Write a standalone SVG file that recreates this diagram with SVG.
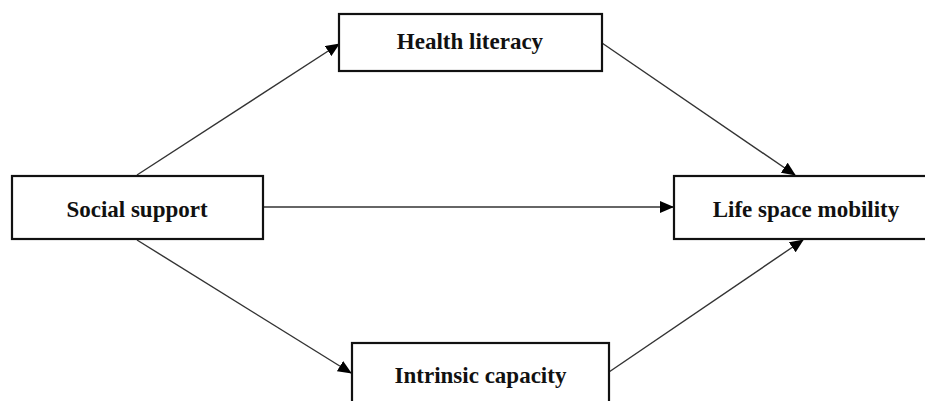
<svg xmlns="http://www.w3.org/2000/svg" width="925" height="401" viewBox="0 0 925 401">
<style>
.box{fill:#fff;stroke:#111;stroke-width:2.2}
.lbl{font-family:"Liberation Serif","Times New Roman",serif;font-weight:bold;font-size:23px;fill:#111;text-anchor:middle}
.edge{stroke:#333;stroke-width:1.4;fill:none;marker-end:url(#ah)}
</style>
<defs>
<marker id="ah" markerUnits="userSpaceOnUse" markerWidth="14" markerHeight="12" viewBox="0 0 14 12" refX="13" refY="6" orient="auto">
<path d="M0,0 L14,6 L0,12 Z" fill="#000"/>
</marker>
</defs>
<rect width="925" height="401" fill="#fff"/>
<g id="connectors">
<line class="edge" x1="137" y1="175" x2="339" y2="44"/>
<line class="edge" x1="602" y1="43" x2="795" y2="175"/>
<line class="edge" x1="263" y1="207" x2="673" y2="207"/>
<line class="edge" x1="137" y1="240" x2="351" y2="373"/>
<line class="edge" x1="609" y1="372" x2="803" y2="240"/>
</g>
<g id="social-support">
<rect class="box" x="12" y="176" width="251" height="63"/>
<text class="lbl" x="137" y="217">Social support</text>
</g>
<g id="health-literacy">
<rect class="box" x="339" y="14" width="263" height="57"/>
<text class="lbl" x="470" y="49">Health literacy</text>
</g>
<g id="life-space-mobility">
<rect class="box" x="674" y="176" width="270" height="63"/>
<text class="lbl" x="806" y="217">Life space mobility</text>
</g>
<g id="intrinsic-capacity">
<rect class="box" x="352" y="343" width="257" height="70"/>
<text class="lbl" x="480.5" y="383">Intrinsic capacity</text>
</g>
</svg>
